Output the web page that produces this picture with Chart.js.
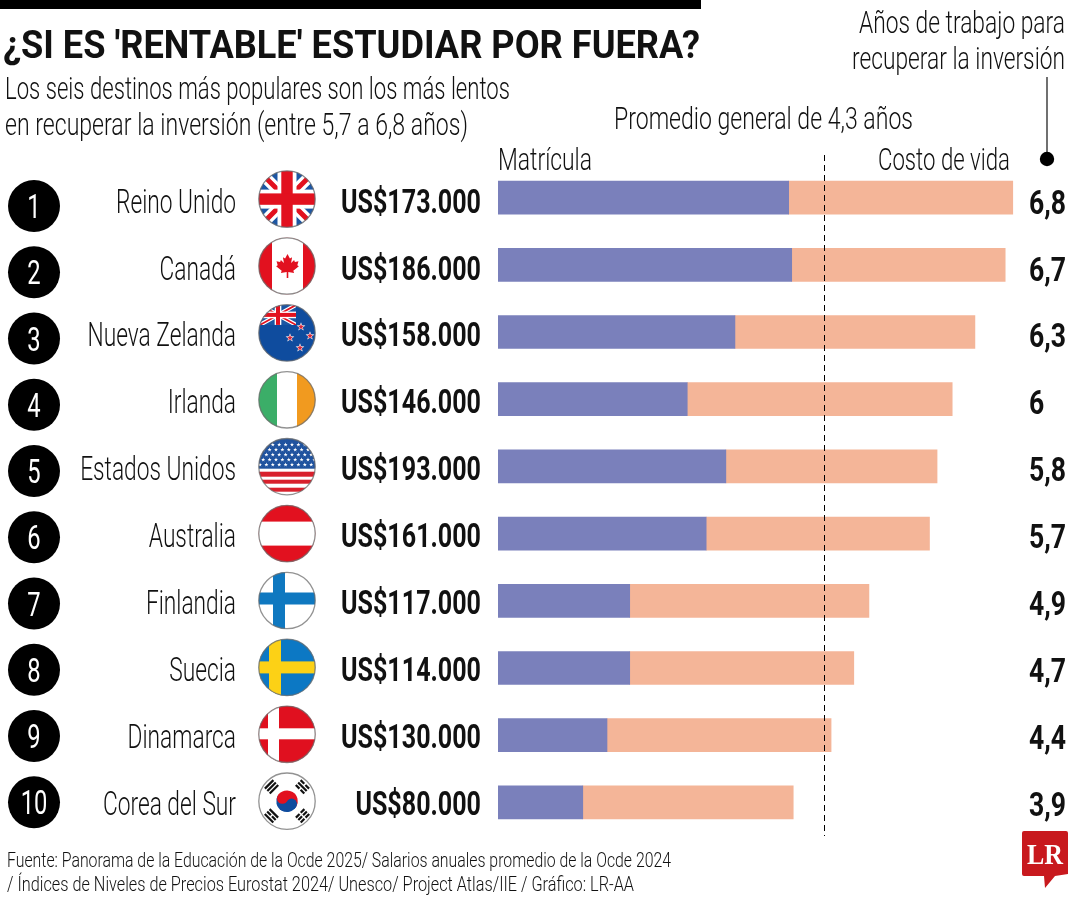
<!DOCTYPE html>
<html lang="es">
<head>
<meta charset="utf-8">
<title>¿Si es 'rentable' estudiar por fuera?</title>
<script src="https://cdn.jsdelivr.net/npm/chart.js@4"></script>
<style>
  html, body { margin: 0; padding: 0; background: #fff; }
  canvas { display: block; }
</style>
</head>
<body>
<canvas id="grafico" width="1080" height="900"></canvas>
<script>
// Datos: años de trabajo para recuperar la inversión, por destino
const paises = ['Reino Unido','Canadá','Nueva Zelanda','Irlanda','Estados Unidos','Australia','Finlandia','Suecia','Dinamarca','Corea del Sur'];
const inversion = ['US$173.000','US$186.000','US$158.000','US$146.000','US$193.000','US$161.000','US$117.000','US$114.000','US$130.000','US$80.000'];
const matricula = [3.84,3.88,3.13,2.50,3.01,2.75,1.74,1.74,1.44,1.12];
const costoVida = [2.96,2.82,3.17,3.50,2.79,2.95,3.16,2.96,2.96,2.78];
const totales = [6.8,6.7,6.3,6,5.8,5.7,4.9,4.7,4.4,3.9];
const promedio = 4.3;

const TITULO = "¿SI ES 'RENTABLE' ESTUDIAR POR FUERA?";
const SUBTITULO = ['Los seis destinos más populares son los más lentos','en recuperar la inversión (entre 5,7 a 6,8 años)'];
const ROTULO_AÑOS = ['Años de trabajo para','recuperar la inversión'];
const ROTULO_PROMEDIO = 'Promedio general de 4,3 años';
const FUENTE = ['Fuente: Panorama de la Educación de la Ocde 2025/ Salarios anuales promedio de la Ocde 2024','/ Índices de Niveles de Precios Eurostat 2024/ Unesco/ Project Atlas/IIE / Gráfico: LR-AA'];

const FAM = 'Roboto, "Liberation Sans", sans-serif';

// Texto condensado: ancho objetivo en px o factor horizontal fijo
function texto(ctx, s, x, y, o) {
  ctx.save();
  ctx.font = `${o.weight || 300} ${o.size}px ${o.family || FAM}`;
  ctx.fillStyle = o.color || '#111';
  ctx.textBaseline = 'alphabetic';
  const real = ctx.measureText(s).width;
  const k = o.w ? o.w / real : (o.k || 1);
  const ancho = real * k;
  let x0 = x;
  if (o.align === 'right') x0 = x - ancho;
  if (o.align === 'center') x0 = x - ancho / 2;
  ctx.translate(x0, y);
  ctx.scale(k, 1);
  ctx.textAlign = 'left';
  ctx.fillText(s, 0, 0);
  ctx.restore();
}
function factor(ctx, s, size, weight, w) {
  ctx.save();
  ctx.font = `${weight} ${size}px ${FAM}`;
  const k = w / ctx.measureText(s).width;
  ctx.restore();
  return k;
}

function rect(c, x, y, w, h, col) { c.fillStyle = col; c.fillRect(x, y, w, h); }
function estrella(c, x, y, r, col) {
  c.fillStyle = col;
  c.beginPath();
  for (let i = 0; i < 10; i++) {
    const a = -Math.PI / 2 + i * Math.PI / 5;
    const q = i % 2 ? r * 0.42 : r;
    c.lineTo(x + q * Math.cos(a), y + q * Math.sin(a));
  }
  c.closePath();
  c.fill();
}
function unionJack(c, x, y, w, h) {
  c.save();
  c.beginPath(); c.rect(x, y, w, h); c.clip();
  rect(c, x, y, w, h, '#1c56a3');
  const u = h / 30;
  c.lineCap = 'butt';
  c.strokeStyle = '#fff'; c.lineWidth = 6 * u;
  c.beginPath(); c.moveTo(x, y); c.lineTo(x + w, y + h); c.moveTo(x + w, y); c.lineTo(x, y + h); c.stroke();
  c.strokeStyle = '#e2111f'; c.lineWidth = 2.6 * u;
  c.beginPath(); c.moveTo(x, y); c.lineTo(x + w, y + h); c.moveTo(x + w, y); c.lineTo(x, y + h); c.stroke();
  rect(c, x + w / 2 - 5 * u, y, 10 * u, h, '#fff');
  rect(c, x, y + h / 2 - 5 * u, w, 10 * u, '#fff');
  rect(c, x + w / 2 - 3 * u, y, 6 * u, h, '#e2111f');
  rect(c, x, y + h / 2 - 3 * u, w, 6 * u, '#e2111f');
  c.restore();
}
function hoja(c, x, y, s) {
  const p = [[0,-12],[-2.4,-7.5],[-4.6,-8.8],[-3.6,-3],[-6.6,-6],[-7.4,-4],[-11,-4.8],[-9.8,-0.8],[-11.4,0.2],[-5.8,4.8],[-6.6,7],[-0.8,6],[-0.8,12],[0.8,12],[0.8,6],[6.6,7],[5.8,4.8],[11.4,0.2],[9.8,-0.8],[11,-4.8],[7.4,-4],[6.6,-6],[3.6,-3],[4.6,-8.8],[2.4,-7.5]];
  c.fillStyle = '#e2111f';
  c.beginPath();
  p.forEach(q => c.lineTo(x + q[0] * s, y + q[1] * s));
  c.closePath(); c.fill();
}
function trigrama(c, x, y, ang, cortes) {
  c.save();
  c.translate(x, y); c.rotate(ang);
  cortes.forEach((partida, i) => {
    const yy = -4.4 + i * 3.4;
    if (partida) { rect(c, -6, yy, 5.2, 2.2, '#111'); rect(c, 0.8, yy, 5.2, 2.2, '#111'); }
    else rect(c, -6, yy, 12, 2.2, '#111');
  });
  c.restore();
}

// Cada bandera se dibuja en coordenadas relativas al centro del círculo
const banderas = [
  (c, r) => unionJack(c, -r, -r, 2 * r, 2 * r),
  (c, r) => { rect(c, -r, -r, 2 * r, 2 * r, '#e2111f'); rect(c, -15, -r, 31, 2 * r, '#fff'); hoja(c, 0.5, 0, 1); },
  (c, r) => {
    rect(c, -r, -r, 2 * r, 2 * r, '#0f4c9e');
    unionJack(c, -27, -28, 36, 20);
    [[14,-6],[23,3],[3,5],[13,15]].forEach(q => { estrella(c, q[0], q[1], 4.6, '#fff'); estrella(c, q[0], q[1], 3.2, '#d6273a'); });
  },
  (c, r) => { rect(c, -r, -r, 2 * r, 2 * r, '#fff'); rect(c, -r, -r, r - 10, 2 * r, '#3bae68'); rect(c, 10, -r, r, 2 * r, '#f19a1f'); },
  (c, r) => {
    rect(c, -r, -r, 2 * r, 2 * r, '#fff');
    [[3,6],[11,5],[19,5]].forEach(b => rect(c, -r, b[0] + 2, 2 * r, b[1] - 1, '#d8202c'));
    rect(c, -r, -r, 2 * r, r + 2, '#20539f');
    for (let f = 0; f < 5; f++) for (let k = 0; k < 9; k++) {
      estrella(c, -27 + k * 6.4 + (f % 2 ? 3.2 : 0), -22 + f * 5, 2.1, '#fff');
    }
  },
  (c, r) => { rect(c, -r, -r, 2 * r, 2 * r, '#e2111f'); rect(c, -r, -12, 2 * r, 24, '#fff'); },
  (c, r) => { rect(c, -r, -r, 2 * r, 2 * r, '#fff'); rect(c, -14, -r, 12, 2 * r, '#0f78c0'); rect(c, -r, -8, 2 * r, 12, '#0f78c0'); },
  (c, r) => { rect(c, -r, -r, 2 * r, 2 * r, '#0c78c4'); rect(c, -18, -r, 12, 2 * r, '#fcd116'); rect(c, -r, -6, 2 * r, 12, '#fcd116'); },
  (c, r) => { rect(c, -r, -r, 2 * r, 2 * r, '#e0101f'); rect(c, -19, -r, 11, 2 * r, '#fff'); rect(c, -r, -6, 2 * r, 11, '#fff'); },
  (c, r) => {
    rect(c, -r, -r, 2 * r, 2 * r, '#fff');
    const a = 0.55, t = 10.8;
    c.fillStyle = '#e2111f'; c.beginPath(); c.arc(0, 0, t, Math.PI + a, a); c.fill();
    c.fillStyle = '#0f4c9e'; c.beginPath(); c.arc(0, 0, t, a, Math.PI + a); c.fill();
    const dx = Math.cos(a) * t / 2, dy = Math.sin(a) * t / 2;
    c.fillStyle = '#0f4c9e'; c.beginPath(); c.arc(dx, dy, t / 2, 0, 2 * Math.PI); c.fill();
    c.fillStyle = '#e2111f'; c.beginPath(); c.arc(-dx, -dy, t / 2, 0, 2 * Math.PI); c.fill();
    trigrama(c, -15.5, -14.5, -Math.PI / 4, [0,0,0]);
    trigrama(c, 15.5, -14.5, Math.PI / 4, [1,0,1]);
    trigrama(c, -15.5, 14.5, Math.PI / 4, [0,1,0]);
    trigrama(c, 15.5, 14.5, -Math.PI / 4, [1,1,1]);
  }
];

// Lo que no son barras: rótulos, filas, banderas, línea de promedio y logotipo
const decorado = {
  id: 'decorado',
  afterDatasetsDraw(chart) {
    const ctx = chart.ctx, sx = chart.scales.x, sy = chart.scales.y;

    // Filete superior
    rect(ctx, 0, 0, 701, 9, '#000');

    texto(ctx, TITULO, 3, 58, { size: 39, weight: 700, w: 697, color: '#111' });
    texto(ctx, SUBTITULO[0], 5, 99, { size: 31, w: 505 });
    texto(ctx, SUBTITULO[1], 5, 135, { size: 31, w: 463 });
    texto(ctx, ROTULO_AÑOS[0], 1065, 33, { size: 31, w: 206, align: 'right' });
    texto(ctx, ROTULO_AÑOS[1], 1065, 69, { size: 31, w: 213, align: 'right' });
    texto(ctx, ROTULO_PROMEDIO, 614, 129, { size: 31, w: 299 });
    texto(ctx, chart.data.datasets[0].label, 498, 170, { size: 31, w: 94 });
    texto(ctx, chart.data.datasets[1].label, 878, 170, { size: 31, w: 132 });

    // Línea guía hacia la columna de años
    ctx.strokeStyle = '#111'; ctx.lineWidth = 1.2;
    ctx.beginPath(); ctx.moveTo(1047, 77); ctx.lineTo(1047, 155); ctx.stroke();
    ctx.fillStyle = '#000';
    ctx.beginPath(); ctx.arc(1047, 159, 7.2, 0, 2 * Math.PI); ctx.fill();

    // Promedio general
    const xp = Math.round(sx.getPixelForValue(promedio));
    ctx.save();
    ctx.strokeStyle = '#000'; ctx.lineWidth = 1; ctx.setLineDash([6, 4]);
    ctx.beginPath(); ctx.moveTo(xp + 0.5, 155); ctx.lineTo(xp + 0.5, 836); ctx.stroke();
    ctx.restore();

    const kPais = factor(ctx, 'Reino Unido', 34, 300, 120);
    const kMonto = factor(ctx, 'US$173.000', 33, 700, 140);

    paises.forEach((p, i) => {
      const yc = sy.getPixelForValue(i);
      const yTxt = yc + 15 - 0.3 * i;

      // Círculo numerado
      const yn = yc + 8.5 - 0.95 * i;
      ctx.fillStyle = '#000';
      ctx.beginPath(); ctx.arc(34, yn, 26, 0, 2 * Math.PI); ctx.fill();
      texto(ctx, String(i + 1), 34, yn + 12, { size: 33, k: 0.72, color: '#fff', align: 'center', weight: 400 });

      texto(ctx, p, 236, yTxt, { size: 34, k: kPais, align: 'right' });

      // Bandera circular
      const yf = yc + 1.5 - 0.3 * i;
      const r = 28.5;
      ctx.save();
      ctx.translate(287, yf);
      ctx.beginPath(); ctx.arc(0, 0, r, 0, 2 * Math.PI); ctx.clip();
      banderas[i](ctx, r);
      ctx.restore();
      ctx.strokeStyle = 'rgba(110,110,110,0.75)'; ctx.lineWidth = 1.3;
      ctx.beginPath(); ctx.arc(287, yf, r - 0.3, 0, 2 * Math.PI); ctx.stroke();

      texto(ctx, inversion[i], 481, yTxt, { size: 33, weight: 700, k: kMonto, align: 'right' });
      texto(ctx, String(totales[i]).replace('.', ','), 1029, yTxt + 1, { size: 33, weight: 700, k: kMonto * 1.06 });
    });

    texto(ctx, FUENTE[0], 7, 867, { size: 21, w: 664 });
    texto(ctx, FUENTE[1], 7, 891, { size: 21, w: 627 });

    // Logotipo
    ctx.fillStyle = '#c8191e';
    ctx.beginPath();
    ctx.moveTo(1024, 831); ctx.lineTo(1066, 831); ctx.quadraticCurveTo(1068, 831, 1068, 833);
    ctx.lineTo(1068, 874); ctx.lineTo(1055, 876); ctx.lineTo(1045, 888); ctx.lineTo(1044, 876);
    ctx.lineTo(1024, 876); ctx.quadraticCurveTo(1022, 876, 1022, 874); ctx.lineTo(1022, 833);
    ctx.quadraticCurveTo(1022, 831, 1024, 831); ctx.closePath(); ctx.fill();
    texto(ctx, 'LR', 1045, 864, { size: 30, weight: 700, family: '"Liberation Serif", serif', color: '#fff', align: 'center', w: 36 });
  }
};

new Chart(document.getElementById('grafico'), {
  type: 'bar',
  data: {
    labels: paises,
    datasets: [
      { label: 'Matrícula', data: matricula, backgroundColor: '#7a80bb', barThickness: 33, borderWidth: 0 },
      { label: 'Costo de vida', data: costoVida, backgroundColor: '#f4b598', barThickness: 33, borderWidth: 0 }
    ]
  },
  options: {
    indexAxis: 'y',
    responsive: false,
    animation: false,
    layout: { padding: { left: 498, right: 14.25, top: 164, bottom: 64 } },
    plugins: { legend: { display: false }, tooltip: { enabled: false }, title: { display: false } },
    scales: {
      x: { stacked: true, min: 0, max: 7.5, display: false },
      y: { stacked: true, display: false }
    }
  },
  plugins: [decorado]
});
</script>
</body>
</html>
